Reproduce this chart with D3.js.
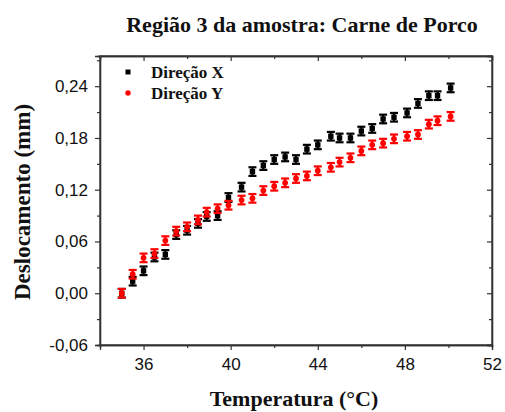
<!DOCTYPE html>
<html>
<head>
<meta charset="utf-8">
<script src="https://cdn.jsdelivr.net/npm/d3@7"></script>
<style>
  body { margin: 0; background: #fff; }
  svg { display: block; }
</style>
</head>
<body>
<svg id="chart" width="505" height="412"></svg>
<script>
// temperatures (°C), shared by both series
var temps = [35.0, 35.5, 36.0, 36.5, 37.0, 37.5, 38.0, 38.5, 38.9, 39.4, 39.9,
             40.5, 41.0, 41.5, 42.0, 42.5, 43.0, 43.5, 44.0, 44.6, 45.0, 45.5,
             46.0, 46.5, 47.0, 47.5, 48.1, 48.6, 49.1, 49.5, 50.1];
var dirX = [0.000, 0.014, 0.026, 0.042, 0.045, 0.068, 0.073, 0.081, 0.089, 0.090, 0.111,
            0.123, 0.141, 0.148, 0.155, 0.158, 0.155, 0.167, 0.172, 0.182, 0.180, 0.180,
            0.188, 0.191, 0.202, 0.204, 0.209, 0.220, 0.229, 0.229, 0.238];
var dirY = [0.000, 0.022, 0.041, 0.046, 0.061, 0.072, 0.077, 0.085, 0.094, 0.098, 0.102,
            0.108, 0.110, 0.119, 0.124, 0.128, 0.133, 0.136, 0.142, 0.146, 0.152, 0.157,
            0.165, 0.172, 0.174, 0.179, 0.182, 0.184, 0.196, 0.200, 0.205];
var errX = 0.005, errY = 0.005;
var xTicks = [36, 40, 44, 48, 52];
var yTicks = [-0.06, 0, 0.06, 0.12, 0.18, 0.24];
var legendLabels = ["Direção X", "Direção Y"];

var svg = d3.select("#chart");
var mLeft = 100, mRight = 492, mTop = 56, mBottom = 345;
var serif = "'Liberation Serif', 'DejaVu Serif', serif";
var sans = "'Liberation Sans', Arial, sans-serif";

var xScale = d3.scaleLinear().domain([34, 52]).range([mLeft, mRight]);
var yScale = d3.scaleLinear().domain([-0.06, 0.275]).range([mBottom, mTop]);
// comma decimals, plain hyphen for negatives
var fmt = function(d) { return d3.format(".2f")(d).replace(".", ",").replace("−", "-"); };

function minorTicks(major) {
  var out = [];
  for (var i = 0; i < major.length - 1; i++) out.push((major[i] + major[i + 1]) / 2);
  return out;
}
var yMinor = minorTicks(yTicks).concat([0.27]);
var xMinor = [34].concat(minorTicks(xTicks));

// axes: bottom & left outward, top & right inward
var xAxis = d3.axisBottom(xScale).tickValues(xTicks).tickSize(5).tickPadding(8).tickFormat(d3.format("d"));
var yAxis = d3.axisLeft(yScale).tickValues(yTicks).tickSize(5).tickPadding(7).tickFormat(fmt);

svg.append("g").attr("id", "xAxisG").attr("transform", "translate(0," + mBottom + ")").call(xAxis);
svg.append("g").attr("id", "yAxisG").attr("transform", "translate(" + mLeft + ",0)").call(yAxis);
svg.append("g").attr("transform", "translate(0," + mBottom + ")")
  .call(d3.axisBottom(xScale).tickValues(xMinor).tickSize(3).tickFormat(""));
svg.append("g").attr("transform", "translate(" + mLeft + ",0)")
  .call(d3.axisLeft(yScale).tickValues(yMinor).tickSize(3).tickFormat(""));
svg.append("g").attr("transform", "translate(0," + mTop + ")")
  .call(d3.axisBottom(xScale).tickValues(xTicks).tickSize(5).tickFormat(""));
svg.append("g").attr("transform", "translate(0," + mTop + ")")
  .call(d3.axisBottom(xScale).tickValues(xMinor).tickSize(3).tickFormat(""));
svg.append("g").attr("transform", "translate(" + mRight + ",0)")
  .call(d3.axisLeft(yScale).tickValues(yTicks).tickSize(5).tickFormat(""));
svg.append("g").attr("transform", "translate(" + mRight + ",0)")
  .call(d3.axisLeft(yScale).tickValues(yMinor).tickSize(3).tickFormat(""));

svg.selectAll(".domain").attr("stroke", "#333").attr("stroke-width", 1.3);
svg.selectAll(".tick line").attr("stroke", "#333").attr("stroke-width", 1.2);
svg.selectAll(".tick text").attr("font-family", sans).attr("font-size", 17).attr("fill", "#111");

// frame
svg.append("rect")
  .attr("x", mLeft).attr("y", mTop)
  .attr("width", mRight - mLeft).attr("height", mBottom - mTop)
  .attr("fill", "none").attr("stroke", "#333").attr("stroke-width", 1.3);

// series
function drawSeries(vals, err, color, shape) {
  var data = temps.map(function(t, i) { return { t: t, v: vals[i] }; });
  var g = svg.append("g");
  var pts = g.selectAll("g.pt").data(data).enter().append("g").attr("class", "pt");
  pts.append("line")
    .attr("x1", function(d) { return xScale(d.t); })
    .attr("x2", function(d) { return xScale(d.t); })
    .attr("y1", function(d) { return yScale(d.v - err); })
    .attr("y2", function(d) { return yScale(d.v + err); })
    .attr("stroke", color).attr("stroke-width", 2.2);
  [-err, err].forEach(function(e) {
    pts.append("line")
      .attr("x1", function(d) { return xScale(d.t) - 4; })
      .attr("x2", function(d) { return xScale(d.t) + 4; })
      .attr("y1", function(d) { return yScale(d.v + e); })
      .attr("y2", function(d) { return yScale(d.v + e); })
      .attr("stroke", color).attr("stroke-width", 2.2);
  });
  if (shape == "square") {
    pts.append("rect")
      .attr("x", function(d) { return xScale(d.t) - 2.7; })
      .attr("y", function(d) { return yScale(d.v) - 2.7; })
      .attr("width", 5.4).attr("height", 5.4).attr("fill", color);
  } else {
    pts.append("circle")
      .attr("cx", function(d) { return xScale(d.t); })
      .attr("cy", function(d) { return yScale(d.v); })
      .attr("r", 2.9).attr("fill", color);
  }
}
drawSeries(dirX, errX, "#000", "square");
drawSeries(dirY, errY, "#f00", "circle");

// legend
var legend = svg.append("g");
legend.append("rect").attr("x", 125.5).attr("y", 69.5).attr("width", 5).attr("height", 5).attr("fill", "#000");
legend.append("circle").attr("cx", 128).attr("cy", 93).attr("r", 2.7).attr("fill", "#f00");
legend.selectAll("text").data(legendLabels).enter().append("text")
  .attr("x", 151)
  .attr("y", function(d, i) { return 78 + i * 21; })
  .text(function(d) { return d; })
  .attr("font-family", serif).attr("font-weight", "bold").attr("font-size", 17).attr("fill", "#111");

// titles
svg.append("text")
  .attr("x", 302).attr("y", 32)
  .attr("text-anchor", "middle")
  .text("Região 3 da amostra: Carne de Porco")
  .attr("font-family", serif).attr("font-weight", "bold").attr("font-size", 22).attr("fill", "#111");

svg.append("text")
  .attr("x", 294).attr("y", 406)
  .attr("text-anchor", "middle")
  .text("Temperatura (°C)")
  .attr("font-family", serif).attr("font-weight", "bold").attr("font-size", 22).attr("fill", "#111");

svg.append("text")
  .attr("transform", "translate(30,202)rotate(-90)")
  .attr("text-anchor", "middle")
  .text("Deslocamento (mm)")
  .attr("font-family", serif).attr("font-weight", "bold").attr("font-size", 23).attr("fill", "#111");
</script>
</body>
</html>
